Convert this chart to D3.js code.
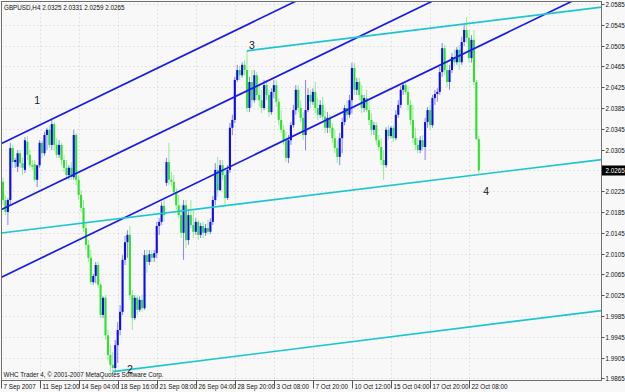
<!DOCTYPE html>
<html>
<head>
<meta charset="utf-8">
<script src="https://cdn.jsdelivr.net/npm/d3@7"></script>
<style>
  html, body { margin: 0; padding: 0; background: #f8f8f8; }
  svg { display: block; font-family: "Liberation Sans", Arial, sans-serif; }
</style>
</head>
<body>
<div id="chart"></div>
<script>
const symbol = 'GBPUSD,H4';

// H4 bars, [open, high, low, close]
const bars = [
  [2.0243,2.0251,2.0198,2.0208],[2.0208,2.0216,2.0179,2.0185],[2.0185,2.0212,2.0160,2.0208],[2.0208,2.0318,2.0198,2.0308],
  [2.0308,2.0314,2.0270,2.0281],[2.0281,2.0289,2.0270,2.0285],[2.0272,2.0304,2.0262,2.0298],[2.0298,2.0304,2.0270,2.0279],
  [2.0279,2.0289,2.0256,2.0270],[2.0266,2.0329,2.0260,2.0323],[2.0320,2.0331,2.0285,2.0295],[2.0295,2.0304,2.0270,2.0275],
  [2.0275,2.0285,2.0266,2.0272],[2.0277,2.0285,2.0243,2.0247],[2.0247,2.0266,2.0233,2.0275],[2.0275,2.0323,2.0270,2.0318],
  [2.0318,2.0323,2.0289,2.0298],[2.0298,2.0339,2.0293,2.0333],[2.0333,2.0347,2.0304,2.0343],[2.0343,2.0352,2.0308,2.0314],
  [2.0314,2.0362,2.0304,2.0354],[2.0354,2.0358,2.0304,2.0314],[2.0314,2.0327,2.0289,2.0295],[2.0295,2.0323,2.0289,2.0314],
  [2.0314,2.0318,2.0275,2.0285],[2.0285,2.0295,2.0262,2.0270],[2.0270,2.0285,2.0247,2.0256],[2.0256,2.0275,2.0247,2.0270],
  [2.0270,2.0281,2.0247,2.0252],[2.0252,2.0343,2.0247,2.0333],[2.0333,2.0337,2.0237,2.0247],[2.0247,2.0256,2.0208,2.0218],
  [2.0218,2.0227,2.0185,2.0193],[2.0193,2.0208,2.0147,2.0154],[2.0154,2.0166,2.0112,2.0122],[2.0122,2.0131,2.0089,2.0097],
  [2.0097,2.0112,2.0045,2.0050],[2.0050,2.0066,2.0045,2.0062],[2.0062,2.0089,2.0048,2.0083],[2.0083,2.0089,2.0039,2.0045],
  [2.0045,2.0048,1.9981,1.9987],[1.9987,2.0023,1.9981,2.0020],[2.0020,2.0025,1.9939,1.9948],[1.9948,1.9958,1.9900,1.9910],
  [1.9910,1.9929,1.9877,1.9891],[1.9891,1.9916,1.9877,1.9885],[1.9885,1.9939,1.9877,1.9929],[1.9929,1.9973,1.9895,1.9958],
  [1.9958,2.0006,1.9948,1.9993],[1.9993,2.0102,1.9987,2.0093],[2.0093,2.0139,2.0083,2.0127],[2.0127,2.0150,2.0097,2.0141],
  [2.0141,2.0158,2.0016,2.0025],[2.0025,2.0035,1.9958,1.9981],[1.9981,2.0025,1.9977,2.0020],[2.0020,2.0025,1.9987,1.9997],
  [1.9997,2.0023,1.9993,2.0016],[2.0016,2.0025,1.9993,2.0000],[2.0000,2.0112,1.9997,2.0102],[2.0102,2.0112,2.0068,2.0089],
  [2.0089,2.0112,2.0083,2.0104],[2.0104,2.0112,2.0089,2.0097],[2.0097,2.0112,2.0089,2.0106],[2.0106,2.0166,2.0097,2.0158],
  [2.0158,2.0173,2.0141,2.0166],[2.0166,2.0204,2.0160,2.0197],[2.0197,2.0208,2.0166,2.0179],[2.0241,2.0289,2.0235,2.0281],
  [2.0281,2.0318,2.0237,2.0247],[2.0247,2.0262,2.0235,2.0243],[2.0243,2.0256,2.0218,2.0223],[2.0223,2.0231,2.0189,2.0198],
  [2.0198,2.0218,2.0173,2.0179],[2.0179,2.0198,2.0135,2.0145],[2.0145,2.0208,2.0093,2.0198],[2.0198,2.0208,2.0116,2.0131],
  [2.0131,2.0189,2.0122,2.0179],[2.0179,2.0208,2.0154,2.0160],[2.0160,2.0189,2.0135,2.0147],[2.0147,2.0173,2.0141,2.0166],
  [2.0166,2.0170,2.0131,2.0141],[2.0141,2.0164,2.0135,2.0158],[2.0158,2.0166,2.0135,2.0145],[2.0145,2.0162,2.0139,2.0154],
  [2.0154,2.0170,2.0141,2.0147],[2.0147,2.0173,2.0143,2.0166],[2.0166,2.0216,2.0160,2.0208],[2.0208,2.0279,2.0198,2.0266],
  [2.0266,2.0291,2.0214,2.0227],[2.0227,2.0285,2.0225,2.0275],[2.0275,2.0285,2.0247,2.0256],[2.0256,2.0270,2.0198,2.0212],
  [2.0212,2.0275,2.0208,2.0266],[2.0266,2.0356,2.0260,2.0347],[2.0347,2.0372,2.0333,2.0362],[2.0362,2.0445,2.0356,2.0439],
  [2.0439,2.0468,2.0435,2.0458],[2.0458,2.0466,2.0439,2.0448],[2.0448,2.0473,2.0443,2.0468],[2.0468,2.0477,2.0448,2.0458],
  [2.0458,2.0495,2.0377,2.0385],[2.0385,2.0445,2.0377,2.0435],[2.0435,2.0458,2.0387,2.0400],[2.0400,2.0458,2.0395,2.0448],
  [2.0448,2.0454,2.0400,2.0410],[2.0410,2.0433,2.0387,2.0400],[2.0400,2.0420,2.0375,2.0385],[2.0385,2.0439,2.0381,2.0429],
  [2.0429,2.0439,2.0400,2.0410],[2.0410,2.0420,2.0368,2.0377],[2.0377,2.0423,2.0372,2.0416],[2.0416,2.0439,2.0404,2.0429],
  [2.0429,2.0439,2.0387,2.0397],[2.0397,2.0404,2.0352,2.0362],[2.0362,2.0381,2.0337,2.0343],[2.0343,2.0352,2.0314,2.0323],
  [2.0323,2.0339,2.0281,2.0289],[2.0289,2.0333,2.0279,2.0323],[2.0323,2.0358,2.0314,2.0352],[2.0352,2.0391,2.0347,2.0381],
  [2.0381,2.0429,2.0372,2.0420],[2.0420,2.0429,2.0377,2.0385],[2.0385,2.0400,2.0358,2.0366],[2.0366,2.0377,2.0323,2.0333],
  [2.0333,2.0439,2.0304,2.0381],[2.0381,2.0423,2.0377,2.0410],[2.0410,2.0420,2.0385,2.0397],[2.0397,2.0423,2.0391,2.0416],
  [2.0416,2.0435,2.0375,2.0385],[2.0385,2.0404,2.0362,2.0372],[2.0372,2.0400,2.0366,2.0391],[2.0391,2.0406,2.0362,2.0368],
  [2.0368,2.0381,2.0337,2.0347],[2.0347,2.0377,2.0337,2.0366],[2.0366,2.0372,2.0337,2.0347],[2.0347,2.0356,2.0318,2.0327],
  [2.0327,2.0343,2.0298,2.0308],[2.0308,2.0323,2.0279,2.0291],[2.0291,2.0337,2.0275,2.0327],[2.0327,2.0366,2.0298,2.0358],
  [2.0358,2.0391,2.0352,2.0385],[2.0385,2.0400,2.0362,2.0372],[2.0372,2.0410,2.0366,2.0400],[2.0400,2.0472,2.0375,2.0462],
  [2.0462,2.0472,2.0410,2.0420],[2.0420,2.0443,2.0410,2.0435],[2.0435,2.0443,2.0400,2.0410],[2.0410,2.0429,2.0375,2.0385],
  [2.0385,2.0410,2.0377,2.0404],[2.0404,2.0420,2.0377,2.0381],[2.0381,2.0400,2.0352,2.0362],[2.0362,2.0375,2.0333,2.0343],
  [2.0343,2.0358,2.0333,2.0352],[2.0352,2.0358,2.0314,2.0323],[2.0323,2.0333,2.0304,2.0310],[2.0310,2.0327,2.0275,2.0285],
  [2.0285,2.0304,2.0247,2.0275],[2.0275,2.0348,2.0270,2.0343],[2.0343,2.0352,2.0323,2.0331],[2.0331,2.0350,2.0327,2.0347],
  [2.0347,2.0352,2.0320,2.0327],[2.0327,2.0381,2.0323,2.0372],[2.0372,2.0400,2.0366,2.0391],[2.0391,2.0427,2.0385,2.0420],
  [2.0420,2.0435,2.0410,2.0429],[2.0429,2.0433,2.0410,2.0416],[2.0416,2.0427,2.0381,2.0391],[2.0391,2.0400,2.0352,2.0362],
  [2.0362,2.0391,2.0318,2.0327],[2.0327,2.0347,2.0304,2.0314],[2.0314,2.0327,2.0298,2.0304],[2.0304,2.0331,2.0298,2.0323],
  [2.0323,2.0333,2.0304,2.0310],[2.0310,2.0366,2.0285,2.0358],[2.0358,2.0387,2.0347,2.0381],[2.0381,2.0391,2.0343,2.0352],
  [2.0352,2.0410,2.0347,2.0404],[2.0404,2.0420,2.0391,2.0412],[2.0412,2.0423,2.0397,2.0416],[2.0416,2.0464,2.0410,2.0454],
  [2.0454,2.0510,2.0445,2.0500],[2.0500,2.0506,2.0448,2.0458],[2.0458,2.0473,2.0425,2.0435],[2.0435,2.0468,2.0420,2.0458],
  [2.0458,2.0491,2.0452,2.0483],[2.0483,2.0497,2.0466,2.0473],[2.0473,2.0502,2.0468,2.0497],[2.0497,2.0506,2.0458,2.0473],
  [2.0473,2.0522,2.0468,2.0512],[2.0512,2.0545,2.0504,2.0535],[2.0535,2.0560,2.0510,2.0520],[2.0520,2.0535,2.0472,2.0481],
  [2.0481,2.0525,2.0472,2.0516],[2.0516,2.0535,2.0429,2.0435],[2.0435,2.0439,2.0323,2.0325],[2.0325,2.0331,2.0259,2.0265]
];

const priceTicks = [2.0585, 2.0545, 2.0505, 2.0465, 2.0425, 2.0385, 2.0345, 2.0305, 2.0265,
  2.0225, 2.0185, 2.0145, 2.0105, 2.0065, 2.0025, 1.9985, 1.9945, 1.9905, 1.9865];

const timeLabels = ['7 Sep 2007', '11 Sep 12:00', '14 Sep 04:00', '18 Sep 16:00', '21 Sep 08:00',
  '26 Sep 04:00', '28 Sep 20:00', '3 Oct 08:00', '7 Oct 20:00', '10 Oct 12:00', '15 Oct 04:00',
  '17 Oct 20:00', '22 Oct 08:00'];
const timeLabelBars = [0, 16, 32, 48, 64, 80, 96, 112, 128, 144, 160, 176, 192];

// trend lines: [bar, price] pairs; 'full' spans the whole chart, 'ray' starts at the first point
const blueChannel = [
  { p1: [0, 2.0318], p2: [100, 2.0545], kind: 'full' },
  { p1: [0, 2.0191], p2: [100, 2.0418], kind: 'full' },
  { p1: [0, 2.0061], p2: [100, 2.0288], kind: 'full' }
];
const cyanChannel = [
  { p1: [100, 2.0495], p2: [195, 2.0550], kind: 'ray' },
  { p1: [0, 2.0145], p2: [195, 2.0257], kind: 'full' },
  { p1: [45, 1.9878], p2: [195, 1.9966], kind: 'ray' }
];
const waveLabels = [
  { text: '1', bar: 14, price: 2.0393 },
  { text: '2', bar: 52, price: 1.9876 },
  { text: '3', bar: 102, price: 2.0498 },
  { text: '4', bar: 198, price: 2.0218 }
];
const footer = 'WHC Trader 4, \u00a9 2001-2007 MetaQuotes Software Corp.';

const W = 625, H = 392;
const box = { left: 1.5, top: 1.5, right: 601.5, bottom: 380.5 };

const svg = d3.select('#chart').append('svg').attr('width', W).attr('height', H);
svg.append('rect').attr('width', W).attr('height', H).attr('fill', '#f8f8f8');

const x = d3.scaleLinear().domain([0, bars.length - 1]).range([3, 478.8]);
const y = d3.scaleLinear().domain([1.9865, 2.0585]).range([378.4, 4]);

svg.append('clipPath').attr('id', 'plot')
  .append('rect').attr('x', box.left).attr('y', box.top)
  .attr('width', box.right - box.left).attr('height', box.bottom - box.top);

// dotted grid
const grid = svg.append('g').attr('stroke', '#c4c4c4').attr('stroke-dasharray', '1,3').attr('stroke-width', 0.8);
priceTicks.forEach(p => {
  grid.append('line').attr('x1', box.left).attr('x2', box.right)
    .attr('y1', Math.round(y(p)) + 0.5).attr('y2', Math.round(y(p)) + 0.5);
});
timeLabelBars.forEach(b => {
  const xx = Math.round(x(b) - 2.2) + 0.5;
  grid.append('line').attr('x1', xx).attr('x2', xx).attr('y1', box.top).attr('y2', box.bottom);
});

const plot = svg.append('g').attr('clip-path', 'url(#plot)');

// candles
const bullBody = '#0c0cf0', bullWick = '#8686f0';
const bearBody = '#30e030', bearWick = '#92ec92';
bars.forEach((d, i) => {
  const [o, h, l, c] = d;
  const up = c >= o;
  const cx = x(i);
  plot.append('line').attr('x1', cx).attr('x2', cx).attr('y1', y(h)).attr('y2', y(l))
    .attr('stroke', up ? bullWick : bearWick).attr('stroke-width', 1);
  const top = y(Math.max(o, c)), bot = y(Math.min(o, c));
  plot.append('rect').attr('x', cx - 1.05).attr('y', top).attr('width', 2.1)
    .attr('height', Math.max(1, bot - top)).attr('fill', up ? bullBody : bearBody);
});

// trend lines
function drawLine(ln, color) {
  const slope = (ln.p2[1] - ln.p1[1]) / (ln.p2[0] - ln.p1[0]);
  const b0 = ln.kind === 'full' ? x.invert(box.left) : ln.p1[0];
  const b1 = x.invert(box.right);
  plot.append('line')
    .attr('x1', x(b0)).attr('y1', y(ln.p1[1] + slope * (b0 - ln.p1[0])))
    .attr('x2', x(b1)).attr('y2', y(ln.p1[1] + slope * (b1 - ln.p1[0])))
    .attr('stroke', color).attr('stroke-width', 1.7);
}
blueChannel.forEach(ln => drawLine(ln, '#1a1aea'));
cyanChannel.forEach(ln => drawLine(ln, '#1cc6d0'));

// wave labels
waveLabels.forEach(w => {
  svg.append('text').attr('x', x(w.bar)).attr('y', y(w.price))
    .attr('text-anchor', 'middle').attr('font-size', 10.5).attr('fill', '#1a1a1a').text(w.text);
});

// frame
svg.append('rect').attr('x', box.left).attr('y', box.top)
  .attr('width', box.right - box.left).attr('height', box.bottom - box.top)
  .attr('fill', 'none').attr('stroke', '#707070').attr('stroke-width', 1);

// price axis
const last = bars[bars.length - 1];
priceTicks.forEach(p => {
  const yy = Math.round(y(p)) + 0.5;
  svg.append('line').attr('x1', box.right).attr('x2', box.right + 3).attr('y1', yy).attr('y2', yy)
    .attr('stroke', '#555');
  svg.append('text').attr('x', 605.5).attr('y', yy + 2.2).attr('font-size', 6.3).attr('fill', '#111')
    .text(p.toFixed(4));
});
const ly = Math.round(y(last[3])) + 0.5;
svg.append('rect').attr('x', box.right + 0.5).attr('y', ly - 5).attr('width', 23).attr('height', 10).attr('fill', '#000');
svg.append('text').attr('x', 605.5).attr('y', ly + 2.2).attr('font-size', 6.3).attr('fill', '#fff')
  .text(last[3].toFixed(4));

// time axis
timeLabelBars.forEach((b, k) => {
  const xx = Math.round(x(b) - 2.2) + 0.5;
  svg.append('line').attr('x1', xx).attr('x2', xx).attr('y1', box.bottom).attr('y2', box.bottom + 8)
    .attr('stroke', '#555');
  svg.append('text').attr('x', xx + 2).attr('y', 388.5).attr('font-size', 6.3).attr('fill', '#111')
    .text(timeLabels[k]);
});

// captions
svg.append('text').attr('x', 4).attr('y', 9.5).attr('font-size', 6.3).attr('fill', '#111')
  .text(`${symbol}  ${last.map(v => v.toFixed(4)).join(' ')}`);
svg.append('text').attr('x', 3.5).attr('y', 377).attr('font-size', 6.3).attr('fill', '#111')
  .text(footer);
</script>
</body>
</html>
